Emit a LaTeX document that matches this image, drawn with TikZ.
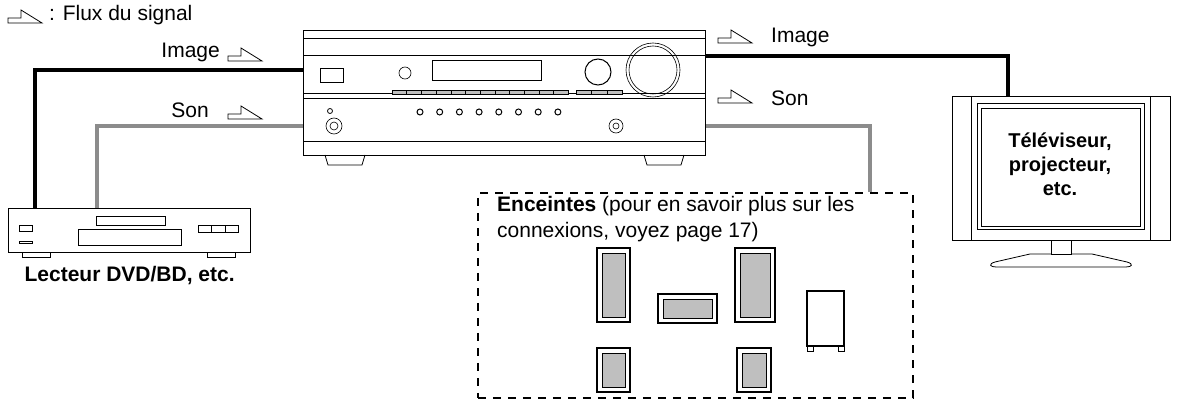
\documentclass[tikz,border=0pt]{standalone}
\usepackage{fontspec}
\setmainfont{Liberation Sans}
\usetikzlibrary{positioning}
\definecolor{cablegray}{gray}{0.55}
\definecolor{conegray}{gray}{0.75}
\tikzset{
  box/.style={draw, line width=1.3pt, inner sep=0pt},
  cone/.style={draw, line width=0.8pt, fill=conegray},
  video/.style={line width=3.5pt, black},
  audio/.style={line width=3.5pt, cablegray},
  lbl/.style={font=\fontsize{21}{30}\selectfont, inner sep=1pt},
  flow/.pic={\draw[line width=0.8pt] (0,13) -- (0,8) -- (13,8) -- (13,0) -- (34,13) -- cycle;}
}
\begin{document}
\begin{tikzpicture}[x=1pt,y=-1pt]
	\useasboundingbox (0,0) rectangle (1179,406);
	% legend
	\pic at (8,10) {flow};
	\node[lbl, anchor=west] (legend) at (48,15) {: Flux du signal};
	
	% receiver
	\node[box, minimum width=402pt, minimum height=125pt, anchor=north west] (rcv) at (303,30) {};
	\draw[line width=0.6pt] (303,38) -- (705,38) (303,55) -- (705,55);
	\draw[line width=0.6pt] (303,93) -- (705,93) (303,98) -- (705,98) (303,141) -- (705,141);
	\draw[line width=0.8pt] (325,155) -- (328,165) -- (362,165) -- (365,155);
	\draw[line width=0.8pt] (644,155) -- (647,165) -- (681,165) -- (684,155);
	\draw[line width=0.8pt] (320,68) rectangle (343,82);
	\draw[line width=0.6pt] (405,73) circle (6);
	\draw[line width=0.6pt] (432,60) rectangle (541,80);
	\foreach \i in {0,...,11} \draw[line width=0.5pt, fill=conegray] (392+\i*14.7,90) rectangle +(14.7,4);
	\foreach \i in {0,1,2} \draw[line width=0.5pt, fill=conegray] (576+\i*15.5,90) rectangle +(15.5,4);
	\draw[line width=1pt] (598,72) circle (13);
	\draw[line width=0.6pt] (653,70) circle (27) (653,70) circle (24);
	\draw[line width=0.8pt] (330,111) circle (2.5);
	\draw[line width=0.6pt] (334,126) circle (8) (334,126) circle (4);
	\foreach \i in {0,...,7} \draw[line width=1pt] (420+\i*19.7,112) circle (3);
	\draw[line width=0.6pt] (616,126) circle (7) (616,126) circle (3);
	
	% DVD/BD player
	\node[box, minimum width=242pt, minimum height=44pt, anchor=north west] (dvd) at (8,208) {};
	\draw[line width=0.8pt] (96,216) rectangle (165,225) (78,229) rectangle (181,245);
	\draw[line width=0.8pt] (19,225) rectangle (32,231) (19,241) rectangle (32,243);
	\draw[line width=0.8pt] (198,225) rectangle (211,232) (211,225) rectangle (225,232) (225,225) rectangle (238,232);
	\draw[line width=0.8pt] (22,252) rectangle (50,257) (207,252) rectangle (235,257);
	\node[lbl, font=\fontsize{21}{30}\selectfont\bfseries, below=12pt of dvd] (dvdname) {Lecteur DVD/BD, etc.};
	
	% TV
	\node[box, minimum width=218pt, minimum height=144pt, anchor=north west] (tv) at (952,96) {};
	\draw[line width=0.6pt] (971,96) -- (971,240) (1150,96) -- (1150,240);
	\draw[line width=1pt] (977,104) rectangle (1144,230);
	\draw[line width=0.6pt] (981,108) rectangle (1140,226);
	\node[lbl, font=\fontsize{20}{24}\selectfont\bfseries, align=center] (tvname) at (1060,164) {Téléviseur,\\projecteur,\\etc.};
	\draw[line width=0.8pt] (1051,240) rectangle (1071,254);
	\draw[line width=0.8pt] (1051,254) -- (1030,254) -- (995,262) .. controls (988,264) and (990,267) .. (996,267)
	  -- (1126,267) .. controls (1132,267) and (1134,264) .. (1127,262) -- (1092,254) -- (1071,254);
	
	% speakers
	\node[draw, dashed, dash pattern=on 8pt off 7pt, line width=1.6pt, minimum width=435pt, minimum height=205pt, anchor=north west] (spk) at (477,192) {};
	\node[lbl, font=\fontsize{21}{26}\selectfont, anchor=base west, align=left] (spkname) at (496,238) {\textbf{Enceintes} (pour en savoir plus sur les\\connexions, voyez page 17)};
	\foreach \x/\y/\w/\h in {597/248/33/74, 658/294/59/29, 735/248/40/74, 597/348/33/44, 737/348/34/44} {
	  \draw[box] (\x,\y) rectangle +(\w,\h);
	  \draw[cone] (\x+5,\y+5) rectangle +(\w-10,\h-10);
	}
	\draw[box] (807,291) rectangle (844,346);
	\draw[line width=0.8pt] (807,346) rectangle (813,351) (838,346) rectangle (844,351);
	
	% cables
	\coordinate (vl) at (rcv.west |- 0,70);
	\coordinate (al) at (rcv.west |- 0,126);
	\coordinate (vr) at (rcv.east |- 0,56);
	\coordinate (ar) at (rcv.east |- 0,126);
	\draw[video] (vl) -| (dvd.north -| 35,0);
	\draw[audio] (al) -| (dvd.north -| 97,0);
	\draw[video] (vr) -| (tv.north -| 1008,0);
	\draw[audio] (ar) -| (spk.north -| 870,0);
	
	% signal labels
	\node[lbl, anchor=east] (imgl) at (221,52) {Image};
	\pic at (228,48) {flow};
	\node[lbl, anchor=east] (sonl) at (210,110) {Son};
	\pic at (228,106) {flow};
	\pic at (718,30) {flow};
	\node[lbl, anchor=west] (imgr) at (770,37) {Image};
	\pic at (718,90) {flow};
	\node[lbl, anchor=west] (sonr) at (770,98) {Son};
\end{tikzpicture}
\end{document}
